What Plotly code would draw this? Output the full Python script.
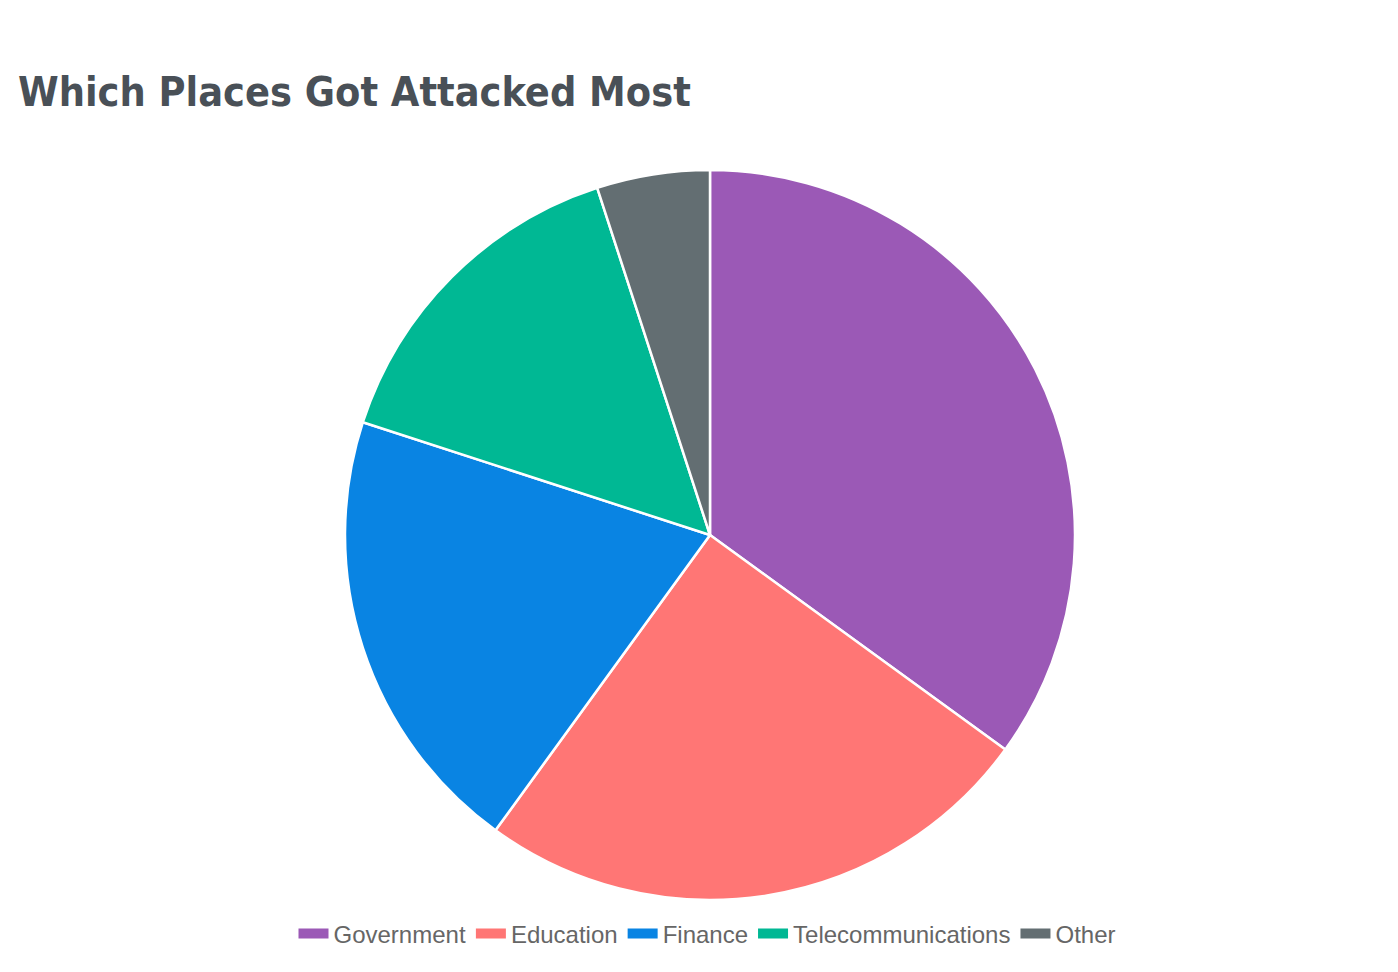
import plotly.graph_objects as go

# sectors and share of attacks (%)
sectors = ['Government', 'Education', 'Finance', 'Telecommunications', 'Other']
attacks = [35, 25, 20, 15, 5]
colors = ['#9b59b6', '#ff7675', '#0984e3', '#00b894', '#636e72']

fig = go.Figure()

fig.add_trace(go.Pie(
    labels=sectors, values=attacks, sort=False, direction='clockwise', rotation=0,
    marker=dict(colors=colors, line=dict(color='white', width=2.5)),
    textinfo='none', hovertemplate='%{label}: %{value}<extra></extra>',
    showlegend=False,
))

# legend entries as wide swatches (chart.js look)
for s, c in zip(sectors, colors):
    fig.add_trace(go.Scatter(x=[None], y=[None], mode='lines', name=s,
                             line=dict(color=c, width=19), hoverinfo='skip'))

fig.update_layout(
    width=1398, height=972,
    paper_bgcolor='white', plot_bgcolor='white',
    margin=dict(l=6, r=0, t=162, b=80),
    title=dict(text='<b>Which Places Got Attacked Most</b>', x=10/1398, xref='container', xanchor='left',
               y=1-84/972, yref='container', yanchor='middle',
               font=dict(family='DejaVu Sans Condensed, DejaVu Sans', size=41, color='#495057')),
    legend=dict(orientation='h', x=0.5, xanchor='center', xref='container',
                y=1-926/972, yref='container', yanchor='middle',
                font=dict(family='Liberation Sans, Arial', size=24, color='#666666'),
                itemwidth=30),
    xaxis=dict(visible=False), yaxis=dict(visible=False),
)

fig.write_html('out.html')
